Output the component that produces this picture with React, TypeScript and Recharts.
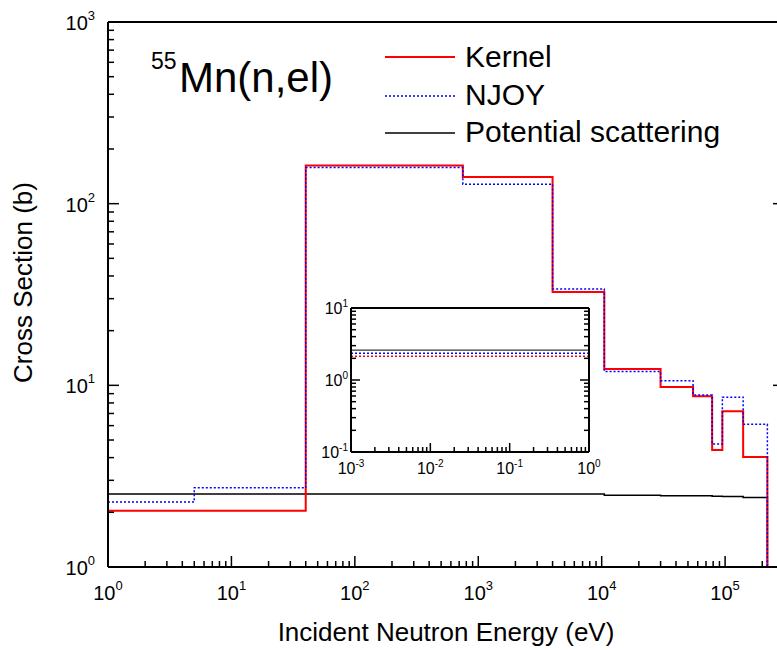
import { ComposedChart, Line, XAxis, YAxis, Legend } from 'recharts'

const FONT = '"Liberation Sans", Arial, Helvetica, sans-serif'

// main panel: group boundaries (eV) and group cross sections (b), drawn as steps
const kernelE = [1, 40, 750, 4000, 10500, 30000, 55000, 78500, 95000, 140000, 220000]
const kernelXS = [2.04, 162, 140, 32.6, 12.3, 9.8, 8.7, 4.4, 7.2, 4.03, 0.5]
const njoyE = [1, 5, 40, 750, 4000, 10500, 30000, 55000, 78500, 95000, 140000, 220000]
const njoyXS = [2.28, 2.73, 158, 128, 33.9, 11.9, 10.6, 8.85, 4.75, 8.6, 6.1, 0.5]
const potE = [1, 10500, 30000, 78500, 95000, 140000, 220000]
const potXS = [2.52, 2.48, 2.47, 2.45, 2.44, 2.41, 0.5]

// inset panel (thermal range)
const insetE = [0.001, 1]
const insetKernel = [2.13, 2.13]
const insetNjoy = [2.35, 2.35]
const insetPot = [2.6, 2.6]

const seriesNames = ['Kernel', 'NJOY', 'Potential scattering']
const titleIso = '55'
const titleRest = 'Mn(n,el)'
const xTitle = 'Incident Neutron Energy (eV)'
const yTitle = 'Cross Section (b)'

const toRows = (e: number[], v: number[]) => e.map((x, i) => ({ e: x, xs: v[i] }))

const logTicks = (lo: number, hi: number, extra: number[] = []) => {
  const t: number[] = []
  for (let n = lo; n < hi; n++) for (let m = 1; m <= 9; m++) t.push(m * Math.pow(10, n))
  t.push(Math.pow(10, hi))
  return t.concat(extra)
}

const mainXTicks = logTicks(0, 5, [2e5, 3e5])
const mainYTicks = logTicks(0, 3)
const insetXTicks = logTicks(-3, 0)
const insetYTicks = logTicks(-1, 1)

const isMajor = (v: number) => Math.abs(Math.log10(v) - Math.round(Math.log10(v))) < 1e-6
const expOf = (v: number) => Math.round(Math.log10(v))

function Pow({ x, y, v, size, sup, rise, anchor }: any) {
  return (
    <text x={x} y={y} textAnchor={anchor} fontSize={size} fontFamily={FONT} fill="#000">
      10
      <tspan dy={-rise} fontSize={sup}>{expOf(v)}</tspan>
    </text>
  )
}

type TickStyle = { big: number; small: number; size: number; sup: number; rise: number; below: number; gap: number; drop: number }

const mainStyle: TickStyle = { big: 11, small: 6, size: 20, sup: 13, rise: 10, below: 33, gap: 13, drop: 8 }
const insetStyle: TickStyle = { big: 9, small: 5, size: 16, sup: 10, rise: 7, below: 22, gap: 3, drop: 6 }

// inward ticks on all four sides of a frame
const makeTick = (side: string, s: TickStyle, showLabel: boolean) => (p: any) => {
  const { x, y, payload } = p
  const v = payload.value
  const major = isMajor(v)
  const len = major ? s.big : s.small
  let line
  let label = null
  if (side === 'bottom') {
    line = <line x1={x} x2={x} y1={y} y2={y - len} stroke="#000" strokeWidth={1.5} />
    if (showLabel && major) label = <Pow x={x} y={y + s.below} v={v} size={s.size} sup={s.sup} rise={s.rise} anchor="middle" />
  } else if (side === 'top') {
    line = <line x1={x} x2={x} y1={y} y2={y + len} stroke="#000" strokeWidth={1.5} />
  } else if (side === 'left') {
    line = <line x1={x} x2={x + len} y1={y} y2={y} stroke="#000" strokeWidth={1.5} />
    if (showLabel && major) label = <Pow x={x - s.gap} y={y + s.drop} v={v} size={s.size} sup={s.sup} rise={s.rise} anchor="end" />
  } else {
    line = <line x1={x} x2={x - len} y1={y} y2={y} stroke="#000" strokeWidth={1.5} />
  }
  return (
    <g>
      {line}
      {label}
    </g>
  )
}

const LegendBox = () => (
  <svg width={777} height={160} style={{ display: 'block' }}>
    <text x={151} y={69} fontSize={23} fontFamily={FONT} fill="#000">{titleIso}</text>
    <text x={179} y={92} fontSize={42} fontFamily={FONT} fill="#000">{titleRest}</text>
    <line x1={385} x2={455} y1={57} y2={57} stroke="#ff0000" strokeWidth={2} />
    <text x={465} y={67} fontSize={30} fontFamily={FONT} fill="#000">{seriesNames[0]}</text>
    <line x1={385} x2={455} y1={96} y2={96} stroke="#0000ff" strokeWidth={1.5} strokeDasharray="2 2" />
    <text x={465} y={105} fontSize={30} fontFamily={FONT} fill="#000">{seriesNames[1]}</text>
    <line x1={385} x2={455} y1={133} y2={133} stroke="#000" strokeWidth={1.5} />
    <text x={465} y={142} fontSize={30} fontFamily={FONT} fill="#000">{seriesNames[2]}</text>
  </svg>
)

const frameLine = { stroke: '#000', strokeWidth: 2 }

export default function App() {
  return (
    <div style={{ position: 'fixed', left: 0, top: 0, width: 777, height: 650, overflow: 'hidden', background: '#fff' }}>
      <ComposedChart width={800} height={650} margin={{ top: 21, right: 15, bottom: 82, left: 107 }}>
        <XAxis
          xAxisId="b"
          dataKey="e"
          type="number"
          scale="log"
          domain={[1, 3e5]}
          allowDataOverflow
          ticks={mainXTicks}
          interval={0}
          height={1}
          tickSize={0}
          tickMargin={0}
          tickLine={false}
          axisLine={frameLine}
          tick={makeTick('bottom', mainStyle, true)}
          label={{
            content: ({ viewBox }: any) => (
              <text x={viewBox.x + viewBox.width / 2} y={viewBox.y + 74} textAnchor="middle" fontSize={26} fontFamily={FONT} fill="#000">
                {xTitle}
              </text>
            ),
          }}
        />
        <XAxis
          xAxisId="t"
          orientation="top"
          type="number"
          scale="log"
          domain={[1, 3e5]}
          allowDataOverflow
          ticks={mainXTicks}
          interval={0}
          height={1}
          tickSize={0}
          tickMargin={0}
          tickLine={false}
          axisLine={frameLine}
          tick={makeTick('top', mainStyle, false)}
        />
        <YAxis
          yAxisId="l"
          type="number"
          scale="log"
          domain={[1, 1000]}
          allowDataOverflow
          ticks={mainYTicks}
          interval={0}
          width={1}
          tickSize={0}
          tickMargin={0}
          tickLine={false}
          axisLine={frameLine}
          tick={makeTick('left', mainStyle, true)}
          label={{
            content: ({ viewBox }: any) => {
              const cx = 32
              const cy = viewBox.y + viewBox.height / 2 - 12
              return (
                <text x={cx} y={cy} transform={`rotate(-90 ${cx} ${cy})`} textAnchor="middle" fontSize={26} fontFamily={FONT} fill="#000">
                  {yTitle}
                </text>
              )
            },
          }}
        />
        <YAxis
          yAxisId="r"
          orientation="right"
          type="number"
          scale="log"
          domain={[1, 1000]}
          allowDataOverflow
          ticks={mainYTicks}
          interval={0}
          width={1}
          tickSize={0}
          tickMargin={0}
          tickLine={false}
          axisLine={frameLine}
          tick={makeTick('right', mainStyle, false)}
        />
        <Legend
          layout="horizontal"
          verticalAlign="middle"
          align="center"
          wrapperStyle={{ left: 0, top: 0, width: 777, height: 160 }}
          content={<LegendBox />}
        />
        <Line
          name={seriesNames[2]}
          xAxisId="b"
          yAxisId="l"
          data={toRows(potE, potXS)}
          dataKey="xs"
          type="stepAfter"
          stroke="#000"
          strokeWidth={1.5}
          dot={false}
          activeDot={false}
          isAnimationActive={false}
        />
        <Line
          name={seriesNames[0]}
          xAxisId="b"
          yAxisId="l"
          data={toRows(kernelE, kernelXS)}
          dataKey="xs"
          type="stepAfter"
          stroke="#ff0000"
          strokeWidth={2}
          dot={false}
          activeDot={false}
          isAnimationActive={false}
        />
        <Line
          name={seriesNames[1]}
          xAxisId="b"
          yAxisId="l"
          data={toRows(njoyE, njoyXS)}
          dataKey="xs"
          type="stepAfter"
          stroke="#0000ff"
          strokeWidth={1.5}
          strokeDasharray="2 2"
          dot={false}
          activeDot={false}
          isAnimationActive={false}
        />
      </ComposedChart>

      <div style={{ position: 'absolute', left: 301, top: 298 }}>
        <ComposedChart width={314} height={194} margin={{ top: 9, right: 25, bottom: 39, left: 49 }}>
          <XAxis
            xAxisId="b"
            dataKey="e"
            type="number"
            scale="log"
            domain={[0.001, 1]}
            allowDataOverflow
            ticks={insetXTicks}
            interval={0}
            height={1}
            tickSize={0}
            tickMargin={0}
            tickLine={false}
            axisLine={frameLine}
            tick={makeTick('bottom', insetStyle, true)}
          />
          <XAxis
            xAxisId="t"
            orientation="top"
            type="number"
            scale="log"
            domain={[0.001, 1]}
            allowDataOverflow
            ticks={insetXTicks}
            interval={0}
            height={1}
            tickSize={0}
            tickMargin={0}
            tickLine={false}
            axisLine={frameLine}
            tick={makeTick('top', insetStyle, false)}
          />
          <YAxis
            yAxisId="l"
            type="number"
            scale="log"
            domain={[0.1, 10]}
            allowDataOverflow
            ticks={insetYTicks}
            interval={0}
            width={1}
            tickSize={0}
            tickMargin={0}
            tickLine={false}
            axisLine={frameLine}
            tick={makeTick('left', insetStyle, true)}
          />
          <YAxis
            yAxisId="r"
            orientation="right"
            type="number"
            scale="log"
            domain={[0.1, 10]}
            allowDataOverflow
            ticks={insetYTicks}
            interval={0}
            width={1}
            tickSize={0}
            tickMargin={0}
            tickLine={false}
            axisLine={frameLine}
            tick={makeTick('right', insetStyle, false)}
          />
          <Line
            xAxisId="b"
            yAxisId="l"
            data={toRows(insetE, insetPot)}
            dataKey="xs"
            stroke="#000"
            strokeWidth={1}
            dot={false}
            activeDot={false}
            isAnimationActive={false}
          />
          <Line
            xAxisId="b"
            yAxisId="l"
            data={toRows(insetE, insetNjoy)}
            dataKey="xs"
            stroke="#0000ff"
            strokeWidth={1.5}
            strokeDasharray="2 2"
            dot={false}
            activeDot={false}
            isAnimationActive={false}
          />
          <Line
            xAxisId="b"
            yAxisId="l"
            data={toRows(insetE, insetKernel)}
            dataKey="xs"
            stroke="#ff0000"
            strokeWidth={1.5}
            strokeDasharray="2 2"
            dot={false}
            activeDot={false}
            isAnimationActive={false}
          />
        </ComposedChart>
      </div>
    </div>
  )
}
